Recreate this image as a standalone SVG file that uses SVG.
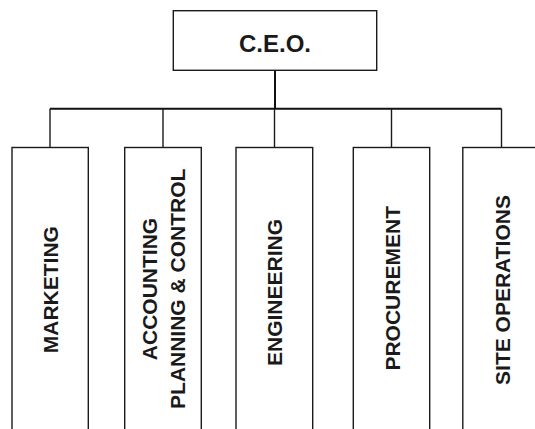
<svg xmlns="http://www.w3.org/2000/svg" width="535" height="429" viewBox="0 0 535 429">
<style>
.box{fill:#fff;stroke:#1a1a1a;stroke-width:1.4}
.ln{fill:none;stroke:#1a1a1a;stroke-width:1.4}
.main{fill:none;stroke:#111;stroke-width:2}
text{font-family:"Liberation Sans",Arial,Helvetica,sans-serif;font-weight:bold;fill:#1a1a1a;text-anchor:middle}
.ceo{font-size:24px}
.dept{font-size:21px}
</style>
<rect width="535" height="429" fill="#fff"/>
<g id="connectors">
<path class="main" d="M275,70.5 V108.7"/>
<path class="main" d="M50,108.7 H501.5"/>
<path class="ln" d="M50,108.7 V147.5 M163,108.7 V147.5 M274.5,108.7 V147.5 M391.5,108.7 V147.5 M501.5,108.7 V147.5"/>
</g>
<g id="ceo">
<rect class="box" x="173.3" y="10.7" width="203.4" height="59.6"/>
<text class="ceo" x="275" y="51.6">C.E.O.</text>
</g>
<g id="marketing">
<rect class="box" x="12" y="147.5" width="76.3" height="300"/>
<text class="dept" transform="translate(57.6,289.7) rotate(-90)">MARKETING</text>
</g>
<g id="accounting">
<rect class="box" x="124.7" y="147.5" width="76.6" height="300"/>
<text class="dept" transform="translate(156.9,289) rotate(-90)">ACCOUNTING</text>
<text class="dept" transform="translate(185,288.8) rotate(-90)">PLANNING &amp; CONTROL</text>
</g>
<g id="engineering">
<rect class="box" x="236" y="147.5" width="76.7" height="300"/>
<text class="dept" transform="translate(281.6,292.5) rotate(-90)">ENGINEERING</text>
</g>
<g id="procurement">
<rect class="box" x="353.3" y="147.5" width="76.4" height="300"/>
<text class="dept" transform="translate(399.9,288.3) rotate(-90)">PROCUREMENT</text>
</g>
<g id="site-operations">
<rect class="box" x="462.8" y="147.5" width="77" height="300"/>
<text class="dept" transform="translate(509.9,290) rotate(-90)">SITE OPERATIONS</text>
</g>
</svg>
